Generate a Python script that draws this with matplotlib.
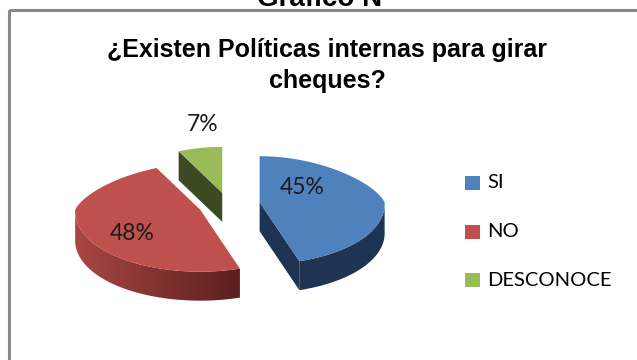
import numpy as np
import matplotlib.pyplot as plt
from matplotlib.patches import Rectangle, Polygon
from matplotlib.colors import to_rgb

# Datos
categorias = ['SI', 'NO', 'DESCONOCE']
porcentajes = [45, 48, 7]
colores_top = ['#4F81BD', '#C0504D', '#9BBB59']
colores_lado = ['#1F3352', '#5A1F1E', '#3B4A22']
titulo = ['¿Existen Políticas internas para girar', 'cheques?']

# Geometria del pastel 3D (pixeles)
cx0, cy0 = 229, 204
rx, ry_b, ry_f = 125, 46, 62
prof = 29
expl = 31

def punto(cx, cy, th):
    # th en grados, sentido horario desde las 12
    t = np.radians(th)
    ry = np.where(np.cos(t) > 0, ry_b, ry_f)
    esc = 1 - 0.2 * np.clip(np.cos(t), 0, None) + 0.03 * np.clip(-np.cos(t), 0, None)
    return cx + rx * np.sin(t) * esc, cy - ry * np.cos(t)

fig = plt.figure(figsize=(6.37, 3.6), dpi=100)
ax = fig.add_axes([0, 0, 1, 1])
ax.set_xlim(0, 637)
ax.set_ylim(360, 0)
ax.axis('off')

# marco del grafico
ax.add_patch(Rectangle((9, 10), 700, 400, fill=False, ec='#898989', lw=2.2))
ax.text(325, 6, 'Gráfico N°', ha='center', va='baseline', fontsize=20,
        fontweight='bold', family='Liberation Sans')
for k, linea in enumerate(titulo):
    ax.text(327, 57 + 31 * k, linea, ha='center', va='baseline', fontsize=18,
            fontweight='bold', family='Liberation Sans')

total = sum(porcentajes)
inicio = 0.0
orden = []
for i, v in enumerate(porcentajes):
    ang = 360.0 * v / total
    orden.append((inicio, inicio + ang, i))
    inicio += ang

centros = []
for a0, a1, i in orden:
    m = np.radians((a0 + a1) / 2)
    k = (ry_b if np.cos(m) > 0 else ry_f) / rx
    centros.append((cx0 + expl * np.sin(m), cy0 - expl * k * np.cos(m)))

# dibujar: verde, rojo, azul
for idx in [2, 1, 0]:
    a0, a1, i = orden[idx]
    cx, cy = centros[idx]
    top_c = colores_top[i]
    lado_c = colores_lado[i]
    # caras radiales visibles
    for edge, sgn in [(a0, -1), (a1, 1)]:
        normal = edge + sgn * 90
        if np.cos(np.radians(normal - 180)) > 0.05:
            ex, ey = punto(cx, cy, edge)
            ax.fill([cx, ex, ex, cx], [cy, ey, ey + prof, cy + prof],
                    color=lado_c, lw=0)
    # pared exterior frontal
    f0, f1 = max(a0, 90), min(a1, 270)
    if f1 > f0:
        ths = np.linspace(f0, f1, 100)
        xs, ys = punto(cx, cy, ths)
        verts = np.c_[np.r_[xs, xs[::-1]], np.r_[ys, ys[::-1] + prof]]
        poly = Polygon(verts, closed=True, fc='none', ec='none')
        ax.add_patch(poly)
        if i == 0:
            ax.add_patch(Polygon(verts, closed=True, fc=lado_c, ec='none'))
        else:
            # claro a la izquierda, oscuro a la derecha
            c_claro = np.array(to_rgb(top_c)) * 0.88
            c_osc = np.array(to_rgb(lado_c))
            f = np.linspace(0, 1, 200)[None, :, None]
            grad = c_claro * (1 - f) + c_osc * f
            im = ax.imshow(grad, extent=(xs.min(), xs.max(), ys.max() + prof, ys.min()),
                           aspect='auto', interpolation='bilinear', zorder=1)
            im.set_clip_path(poly)
    # cara superior
    ths = np.linspace(a0, a1, 120)
    xs, ys = punto(cx, cy, ths)
    ax.fill(np.r_[cx, xs], np.r_[cy, ys], color=top_c, lw=0, zorder=2)

ax.set_xlim(0, 637)
ax.set_ylim(360, 0)

# etiquetas de porcentaje
desplaz = [(43, -15), (-68, 24), (-20, -68)]
for idx, (a0, a1, i) in enumerate(orden):
    cx, cy = centros[idx]
    dx, dy = desplaz[idx]
    ax.text(cx + dx, cy + dy, f'{porcentajes[i]}%', ha='center', va='center',
            fontsize=16.5, family='Lato', color='#1a1a1a', zorder=3)

# leyenda
for j, (cat, col) in enumerate(zip(categorias, colores_top)):
    y = 183 + j * 48.5
    ax.add_patch(Rectangle((465, y - 7), 15, 14, color=col, lw=0))
    ax.text(487, y, cat, ha='left', va='center', fontsize=14.5, family='Lato')

fig.savefig('out.png', dpi=100)
